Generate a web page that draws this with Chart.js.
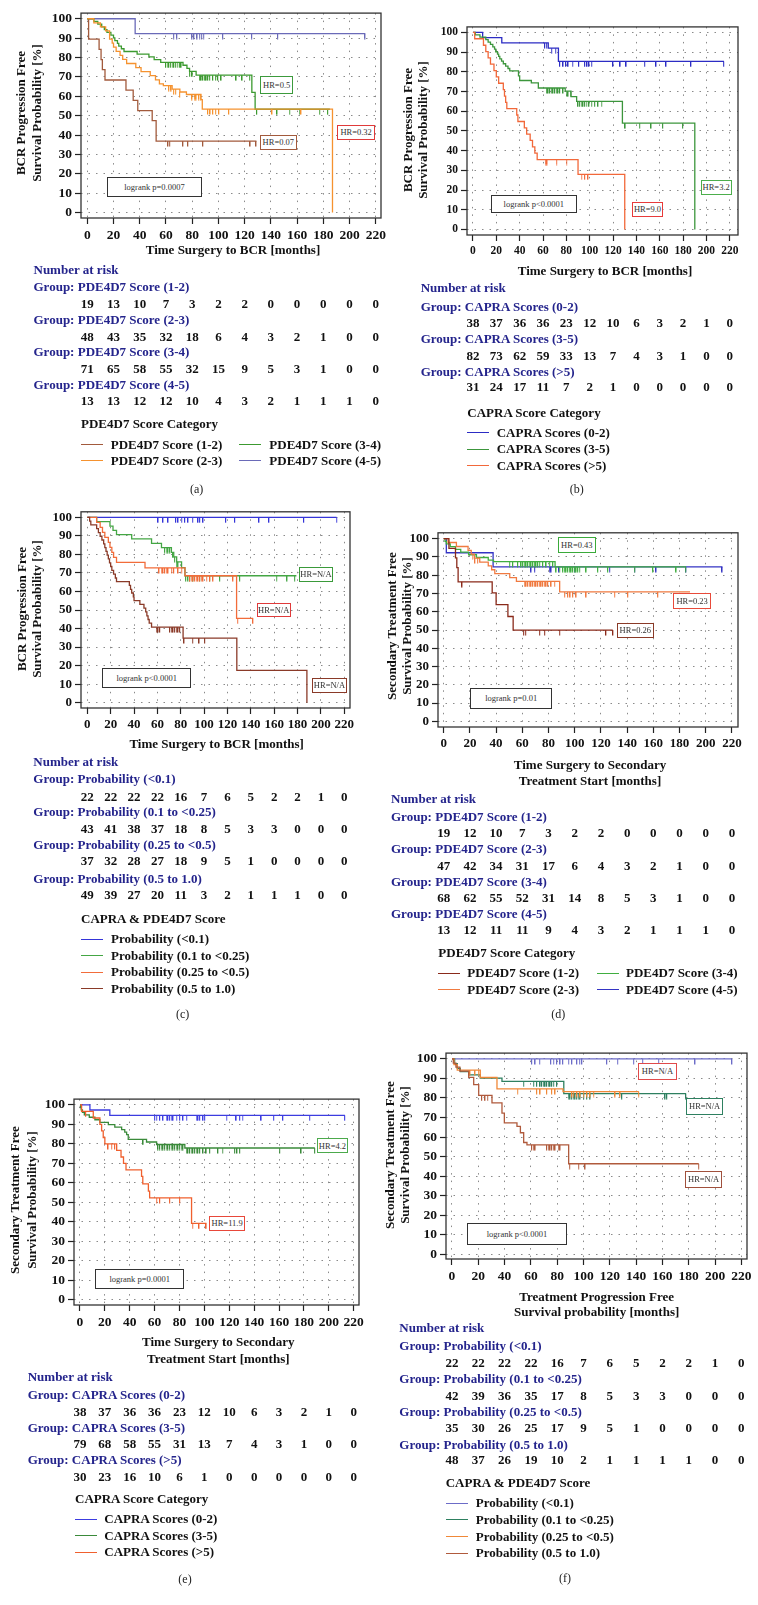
<!DOCTYPE html>
<html><head><meta charset="utf-8">
<script src="https://cdn.jsdelivr.net/npm/chart.js@4.4.1/dist/chart.umd.min.js"></script>
<style>
:root{--fs:13px;}
body{margin:0;background:#fff;width:758px;height:1605px;position:relative;overflow:hidden;font-family:'Liberation Serif','Times New Roman',serif;}
.t{position:absolute;white-space:nowrap;line-height:1;transform:translateY(-50%);font-weight:bold;font-size:var(--fs);color:#111;}
.c{transform:translate(-50%,-50%);}
.navy{color:#24248c;}
.yt{transform:translate(-50%,-50%) rotate(-90deg);}
.lab{font-weight:normal;font-size:12px;color:#222;}
.note{position:absolute;border:1.3px solid #333;font-size:8.5px;line-height:1;font-weight:normal;display:flex;align-items:center;justify-content:center;box-sizing:border-box;background:#fff;color:#333;white-space:nowrap;}
.leg{position:absolute;height:0;border-top:1.4px solid;}
canvas{position:absolute;}
</style></head><body>
<script>
// ---------- shared axes ----------
const xTicks=[0,20,40,60,80,100,120,140,160,180,200,220];
const yTicks=[0,10,20,30,40,50,60,70,80,90,100];

// ---------- (a) ----------
const A_groups=["PDE4D7 Score (1-2)","PDE4D7 Score (2-3)","PDE4D7 Score (3-4)","PDE4D7 Score (4-5)"];
const A_km=[
 [[0,100],[1,89.5],[9,84.2],[10.5,78.9],[11.5,73.7],[13.5,68.4],[29.5,63.2],[35,57.9],[38.5,52.6],[49.5,47.4],[52.5,36.9],[129,36.9]],
 [[0,100],[5,97.9],[10,95.8],[14,93.7],[17,89.5],[19,87.4],[20,85.3],[22,83.2],[25,81.1],[27,79],[30,76.9],[37,74.8],[41,72.7],[48,70.6],[52,68.5],[55,66.4],[58,65.5],[64.7,63.7],[70.6,62.2],[75.6,60.9],[86.7,58.3],[87.7,53.4],[187,53.4],[187,0]],
 [[0,100],[5,98.6],[8,97.2],[11,95.8],[13,94.4],[15,93],[18,91.5],[20,90.1],[21,88.7],[23,87.3],[24,85.9],[26,84.5],[28,83.1],[38,81.7],[47,80.3],[51,78.9],[56,77.5],[73,76],[76,74.4],[78,72.8],[83,70.9],[125.5,62],[128,53.3],[185,53.3]],
 [[0,100],[36.5,92.3],[212,92.3]]
];
const A_cens=[
 [61.7,62.9,73.1,76.9,88.3,124.4,128.9],
 [62.4,64.2,66,67.5,70.6,80,82,83.2,85.3,86.5,92.1,93.9,95.9,98,100.5,108.1,141.1,163.2],
 [60,61.2,62.4,63.7,65,66.2,67.5,68.8,70.6,71.8,78.2,80.2,85.8,87.1,88.3,89.6,90.9,92.1,93.4,95.9,98,99.7,102.3,113.7,118.3,123.9,129.4,144.9,154.3,161.9,177.2,183.5],
 [66,68.5,80,81.5,84,85.8,87.3,88.8,103.5,125.6,145.4,212]
];
const A_risk=[
 [19,13,10,7,3,2,2,0,0,0,0,0],
 [48,43,35,32,18,6,4,3,2,1,0,0],
 [71,65,58,55,32,15,9,5,3,1,0,0],
 [13,13,12,12,10,4,3,2,1,1,1,0]
];

// ---------- (b) ----------
const B_groups=["CAPRA Scores (0-2)","CAPRA Scores (3-5)","CAPRA Scores (>5)"];
const B_km=[
 [[0,100],[8.3,97.4],[24.7,94.7],[64.5,92],[73.2,85.3],[215,85.3]],
 [[0,100],[2,98.8],[6,97.6],[11,96.3],[13,95.1],[15,93.9],[17,92.7],[18.5,91.5],[19.5,90.2],[21,89],[22,87.8],[23,86.6],[24.5,85.4],[26,84.1],[28,82.9],[30,81.7],[31.5,80.5],[39,78],[40,75.6],[50,74.4],[56,71.8],[79,70.2],[84,67.4],[88.8,65],[128,54],[190,54],[190,0]],
 [[0,100],[1.5,96.8],[9,93.5],[11,90.3],[13,87.1],[15,83.9],[18,80.6],[20,77.4],[22,74.2],[26,71],[27,67.7],[28,64.5],[29,61.3],[37.5,58.1],[38.5,54.8],[44,51.6],[46,48.4],[49,45.2],[51,41.9],[53,38.7],[55,35.5],[90,28],[130,28],[130,0]]
];
const B_cens=[
 [61.7,63.2,67.4,70.8,74.5,77.4,79.7,81.7,85.3,90.8,95.9,97.9,99.6,101.6,120.1,126.3,131.4,147.1,157,165.6,186.9,214.8],
 [63.2,64.6,66,67.4,68.8,70.3,71.7,73.1,74.5,77.4,80.2,81.7,83.6,90.2,91.6,93,94.5,95.9,97.3,99.6,101.6,104.4,107.3,110.1,130.6,142.8,152.8,162.7,179.8],
 [62.3,63.7,71.7,80.2,93,95.9,98.7]
];
const B_risk=[
 [38,37,36,36,23,12,10,6,3,2,1,0],
 [82,73,62,59,33,13,7,4,3,1,0,0],
 [31,24,17,11,7,2,1,0,0,0,0,0]
];

// ---------- (c) ----------
const C_groups=["Probability (<0.1)","Probability (0.1 to <0.25)","Probability (0.25 to <0.5)","Probability (0.5 to 1.0)"];
const C_km=[
 [[0,100],[213.4,100]],
 [[0,100],[8,97.7],[19.4,95.3],[22,93],[25,90.7],[38,88.4],[55,86],[63.5,83.7],[72,81.1],[74,78.7],[76.5,76],[80.7,72.9],[83.6,68.5],[179,68.5]],
 [[0,100],[8,97.3],[11,94.6],[13,91.9],[15,89.2],[18,86.5],[19.4,83.8],[21,81.1],[22.5,78.4],[25,75.7],[49.4,72.7],[83.6,68.5],[127.8,45.5],[142,45.5]],
 [[0,100],[2,98],[3,95.9],[8,93.9],[9.5,91.8],[11,89.8],[12.5,87.8],[14,85.7],[15,83.7],[16,81.6],[17,79.6],[18,77.6],[19,75.5],[20,73.5],[21,71.4],[22.5,69.4],[24,67.3],[25,65.3],[36,63.3],[37,61.2],[38,59.2],[39.4,57.1],[40,55.1],[45,53.1],[48.5,51],[50,49],[51,46.9],[52,44.9],[53,42.9],[55,40.8],[82,34.9],[128,17.5],[188,17.5],[188,0]]
];
const C_cens=[
 [60.8,65,69.3,75.9,77.9,80.7,83.6,86.4,90.2,95,96.4,99.3,118.7,126.4,147.2,155.7,185.5,213.4],
 [66.5,67.9,69.3,70.8,73.6,75,76.5,77.9,84.5,86.4,87.9,90.7,96.4,105,113.6,130.7,162.1,171.2,177.7],
 [61.6,63.6,65,66.5,67.9,69.3,72.2,74.2,77.9,80.7,87.9,89.3,90.7,92.2,93.6,95,96.4,97.9,99.3,102.1,105,107.8,124.9,128.7,142],
 [59.3,60.8,62.2,70.8,72.2,73.6,75,76.5,77.9,79.3,83,90.2,95.9,100.7]
];
const C_risk=[
 [22,22,22,22,16,7,6,5,2,2,1,0],
 [43,41,38,37,18,8,5,3,3,0,0,0],
 [37,32,28,27,18,9,5,1,0,0,0,0],
 [49,39,27,20,11,3,2,1,1,1,0,0]
];

// ---------- (d) ----------
const D_groups=["PDE4D7 Score (1-2)","PDE4D7 Score (2-3)","PDE4D7 Score (3-4)","PDE4D7 Score (4-5)"];
const D_km=[
 [[0,100],[4,94.7],[9,89.5],[10,84.2],[11,76.4],[37,70.3],[40,63.9],[49,57.4],[53,50],[129,50]],
 [[0,100],[3.3,97.9],[9.7,95.7],[18.6,93.6],[21,91.5],[23.4,89.4],[27.5,87.2],[34,85.1],[36.6,83],[39,80.9],[50.4,78.7],[55.5,76.6],[88.5,70.9],[188,70.9]],
 [[0,100],[1,98.5],[2,97.1],[5,95.6],[9,94.1],[13,92.6],[19,91.2],[25,89.7],[34,88.2],[38,87.4],[85,84.6],[185,84.6]],
 [[0,100],[2,92.3],[37.7,84.6],[212.7,84.6]]
];
const D_cens=[
 [14.2,61.1,62.6,73.3,77.1,88.5,124,129.3],
 [22,24,26,61.8,63.1,64.4,65.6,66.9,68.2,69.5,70.7,72,73.3,74.6,75.8,77.1,78.4,79.6,82.2,84.7,92.4,94.9,96.7,98.7,101.3,108.9,130.5,140.7,163.6],
 [50.4,52.9,56.7,59.3,60.6,61.8,63.1,64.4,65.6,66.9,68.2,69.5,70.7,72,73.3,75.8,78.4,80.9,83.5,86,88.5,91.1,92.4,93.6,94.9,96.2,97.5,98.7,100,101.3,102.5,103.8,108.9,117.8,125.4,145.8,159.8,177.6,184.7],
 [66.9,69.5,80.9,82.2,88,100,126.7,145.8,162.3,185,212.7]
];
const D_risk=[
 [19,12,10,7,3,2,2,0,0,0,0,0],
 [47,42,34,31,17,6,4,3,2,1,0,0],
 [68,62,55,52,31,14,8,5,3,1,0,0],
 [13,12,11,11,9,4,3,2,1,1,1,0]
];

// ---------- (e) ----------
const E_groups=["CAPRA Scores (0-2)","CAPRA Scores (3-5)","CAPRA Scores (>5)"];
const E_km=[
 [[0,100],[8,97.4],[24,94.7],[213,94.7]],
 [[0,100],[0.5,98.7],[1,97.5],[2,96.2],[3.5,94.9],[7.5,93.7],[12,92.4],[16,91.1],[22.8,89.9],[28,88.6],[33.5,87.3],[36,86.1],[37.5,84.8],[38.8,82.3],[53.5,81],[61.6,79.7],[84.3,77.9],[188.8,77.9]],
 [[0,100],[1.3,96.7],[10.7,93.3],[16,90],[17.4,86.7],[18.7,83.3],[20,80],[29.5,76.7],[33,73.3],[35,70],[37,66.7],[49.5,63.3],[50.5,59.5],[55,55.8],[56,52.3],[89.7,39.2],[101.7,39.2]]
];
const E_cens=[
 [60.2,61.6,64.3,66.9,69.6,70.9,72.3,73.6,75,77.6,80.3,83,85.7,93.7,95.1,96.4,99.1,100.4,117.8,125.8,128.5,130.7,145.9,155.8,163.3,184.7,212.9],
 [51,62.9,64.3,65.6,66.9,68.3,69.6,70.9,72.3,73.6,75,76.3,77.6,79,80.3,81.7,83,85.7,87,88.4,89.7,91,92.4,93.7,95,96.4,99.1,101.7,104.4,111.1,114.6,124.5,126.4,128.5,160.6,178,188.8],
 [4.8,22.8,25.4,28.1,61.6,64.3,72.3,80.3,90.5,95.9,101.7]
];
const E_risk=[
 [38,37,36,36,23,12,10,6,3,2,1,0],
 [79,68,58,55,31,13,7,4,3,1,0,0],
 [30,23,16,10,6,1,0,0,0,0,0,0]
];

// ---------- (f) ----------
const F_groups=["Probability (<0.1)","Probability (0.1 to <0.25)","Probability (0.25 to <0.5)","Probability (0.5 to 1.0)"];
const F_km=[
 [[0,100],[213,100]],
 [[0,100],[2,97.6],[4,95.2],[6.3,93.5],[12.7,91.8],[21.5,90.2],[38,88.5],[85,82.2],[178,82.2]],
 [[0,100],[1.5,97.1],[4,94.3],[21.5,90.5],[34.2,84.7],[84.4,83.3],[142,83.3]],
 [[0,100],[1,97.9],[3,95.8],[6,93.8],[12.7,90.6],[16.5,86.8],[20.3,81.3],[30.4,77.5],[38,72.2],[39.8,67.2],[49.4,65.5],[52,62.2],[54.5,57.2],[57,56],[88.7,46.3],[187.6,46.3]]
];
const F_cens=[
 [60.8,63.4,66.7,75.3,77.3,79.8,82.4,84.4,88.7,91.3,95.1,97.1,98.9,117.9,126,138.2,145,157.2,185,213],
 [54.5,62.1,64.6,67.2,68.4,69.7,71,72.2,73.5,74.8,76,77.3,79.8,88.7,90,91.3,92.5,93.8,95.1,96.3,97.6,100.1,102.7,105.2,129.3,162.2,163.5,178],
 [13.9,17.7,20.3,49.9,64.6,67.2,72.2,76,78.6,91.3,92.5,95.1,97.6,100.1,102.7,105.2,107.7,124.2,128,142],
 [22.8,25.3,27.1,60.8,62.1,63.4,72.2,73.5,74.8,76,77.3,78.6,81.1,82.4,89.5,96.3,101.4,187.6]
];
const F_risk=[
 [22,22,22,22,16,7,6,5,2,2,1,0],
 [42,39,36,35,17,8,5,3,3,0,0,0],
 [35,30,26,25,17,9,5,1,0,0,0,0],
 [48,37,26,19,10,2,1,1,1,1,0,0]
];

// ---------- layout & style (page pixels) ----------
const PANELS=[
 {groups:A_groups,km:A_km,cens:A_cens,risk:A_risk,draw:[1,2,0,3],
  colors:['#a25a3c','#f5922f','#3c9a30','#6a6ab8'],
  box:[81,8,381,218],xr:[-4.8,224],yr:[-2.8,102.9],tf:13.5,
  yt:["BCR Progression Free","Survival Probability [%]"],ytx:[20.7,36.7],yty:113,
  xt:["Time Surgery to BCR [months]"],xtx:233,xty:[249.5],
  nar:[33.5,269.5],grpY:[287,319.5,352,384.5],numY:[304,336.5,369,401],
  legT:"PDE4D7 Score Category",legTXY:[81,423.5],
  leg:[[0,81,110.7,444.5],[1,81,110.7,460.5],[2,239,269.3,444.5],[3,239,269.3,460.5]],
  lab:"(a)",labXY:[196.7,489],
  notes:[["HR=0.5","#3c9a3c",260,76,293.3,94],["HR=0.07","#a25a3c",260,135,296.7,150],["HR=0.32","#e03a3a",337.3,125,375,140],["logrank p=0.0007","#333",106.7,176.7,202.3,197.3]]},
 {groups:B_groups,km:B_km,cens:B_cens,risk:B_risk,draw:[2,1,0],
  colors:['#2c2cc4','#3c963c','#f2683a'],
  box:[467,23,738,235],xr:[-5.1,227],yr:[-2.8,102.8],tf:11.5,
  yt:["BCR Progression Free","Survival Probability [%]"],ytx:[408.3,423.3],yty:130,
  xt:["Time Surgery to BCR [months]"],xtx:605,xty:[271],
  nar:[420.7,288.3],grpY:[306.7,339,371.7],numY:[323.3,355.7,387.3],
  legT:"CAPRA Score Category",legTXY:[467.3,412.7],
  leg:[[0,467,496.7,432.7],[1,467,496.7,449.3],[2,467,496.7,465.7]],
  lab:"(b)",labXY:[576.7,489],
  notes:[["HR=9.0","#e83a3a",632.3,201.7,662.7,217.3],["HR=3.2","#4cae4c",700.7,180,731.7,195],["logrank p<0.0001","#333",491,195,576.7,213.3]]},
 {groups:C_groups,km:C_km,cens:C_cens,risk:C_risk,draw:[3,2,1,0],
  colors:['#3434d8','#44a644','#f26c3a','#8a3a28'],
  box:[81,507,350,708],xr:[-5.4,224.9],yr:[-2.85,103],tf:13,
  yt:["BCR Progression Free","Survival Probability [%]"],ytx:[21.7,37.3],yty:609,
  xt:["Time Surgery to BCR [months]"],xtx:216.7,xty:[744.3],
  nar:[33.3,761.7],grpY:[779.3,812.3,845,879.3],numY:[796.7,829,860.7,895],
  legT:"CAPRA & PDE4D7 Score",legTXY:[81,919],
  leg:[[0,81,111,939.3],[1,81,111,955.7],[2,81,111,972.3],[3,81,111,989]],
  lab:"(c)",labXY:[182.7,1014.3],
  notes:[["HR=N/A","#3a9a3a",299.3,566.7,332.7,581.7],["HR=N/A","#e03a3a",256.7,602.7,290.7,617.3],["HR=N/A","#8a3a28",312.3,678.3,346.7,692.7],["logrank p<0.0001","#333",102.3,668.3,191,688.3]]},
 {groups:D_groups,km:D_km,cens:D_cens,risk:D_risk,draw:[0,1,2,3],
  colors:['#8a2a1a','#f07a40','#40ae40','#3434c4'],
  box:[438,528,738,727],xr:[-4.35,224.6],yr:[-3.05,103.2],tf:13,
  yt:["Secondary Treatment Free","Survival Probability [%]"],ytx:[392,407],yty:626,
  xt:["Time Surgery to Secondary","Treatment Start [months]"],xtx:590,xty:[765,780.7],
  nar:[391,799],grpY:[816.7,849.3,881.7,914.3],numY:[833.3,866,897.7,930],
  legT:"PDE4D7 Score Category",legTXY:[438.3,953.3],
  leg:[[0,438,467.3,973.3],[1,438,467.3,990],[2,596.7,626,973.3],[3,596.7,626,990]],
  lab:"(d)",labXY:[558.3,1014.3],
  notes:[["HR=0.43","#3aaa3a",557.7,537.3,596,552.7],["HR=0.23","#e84a3a",673.3,592.7,711,609],["HR=0.26","#8a3a28",616.7,622.7,654,638.3],["logrank p=0.01","#333",470,688.3,552.3,709]]},
 {groups:E_groups,km:E_km,cens:E_cens,risk:E_risk,draw:[2,1,0],
  colors:['#3c3ce0','#3a8a3a','#f0602e'],
  box:[74,1094,359,1305],xr:[-4.8,224.3],yr:[-2.65,103],tf:13.5,
  yt:["Secondary Treatment Free","Survival Probability [%]"],ytx:[15,32.3],yty:1200,
  xt:["Time Surgery to Secondary","Treatment Start [months]"],xtx:218.3,xty:[1342.3,1359],
  nar:[27.7,1376.7],grpY:[1395,1427.7,1460],numY:[1411.7,1444.3,1476.7],
  legT:"CAPRA Score Category",legTXY:[75,1499],
  leg:[[0,75,104.3,1519.3],[1,75,104.3,1536],[2,75,104.3,1552.3]],
  lab:"(e)",labXY:[185,1579.3],
  notes:[["HR=4.2","#4caa4c",316.7,1138.3,348.3,1153.3],["HR=11.9","#e8483a",209.3,1215.7,245,1230.7],["logrank p=0.0001","#333",95,1269.3,184.3,1289.3]]},
 {groups:F_groups,km:F_km,cens:F_cens,risk:F_risk,draw:[3,2,1,0],
  colors:['#6c6cc8','#2e8060','#f08838','#b05a3c'],
  box:[446,1048,747,1259],xr:[-4.56,224.3],yr:[-2.5,103],tf:13.5,
  yt:["Secondary Treatment Free","Survival Probability [%]"],ytx:[390,405],yty:1155,
  xt:["Treatment Progression Free","Survival probability [months]"],xtx:596.7,xty:[1296.7,1311.7],
  nar:[399.3,1328.3],grpY:[1346,1379,1411.7,1445],numY:[1363.3,1396,1428.3,1460],
  legT:"CAPRA & PDE4D7 Score",legTXY:[445.7,1482.7],
  leg:[[0,445.7,475.7,1503.3],[1,445.7,475.7,1520],[2,445.7,475.7,1536.7],[3,445.7,475.7,1553.3]],
  lab:"(f)",labXY:[565,1578.3],
  notes:[["HR=N/A","#e04a4a",638.3,1062.7,676.7,1080],["HR=N/A","#2e8060",686,1098.3,723.3,1115],["HR=N/A","#a0503c",685,1171,722.3,1187.7],["logrank p<0.0001","#333",467.3,1223.3,566.7,1245]]}
];

const FF="'Liberation Serif','Times New Roman',serif";
// calibrate text size so that a group label has the reference width (~156px)
const mctx=document.createElement('canvas').getContext('2d');
mctx.font="bold 13px "+FF;
const K=Math.min(1.3,Math.max(0.85,156/mctx.measureText("Group: PDE4D7 Score (1-2)").width));
document.documentElement.style.setProperty('--fs',(13*K).toFixed(2)+'px');

function sAt(km,t){let v=km[0][1];for(const p of km){if(p[0]<=t)v=p[1];else break;}return v;}
const imgs={};
function tickImg(col){
  if(imgs[col])return imgs[col];
  const c=document.createElement('canvas');c.width=2;c.height=12;
  const g=c.getContext('2d');g.fillStyle=col;g.fillRect(0,6,1.2,5.5);
  return imgs[col]=c;
}
function txt(s,x,y,cls,st){
  const d=document.createElement('div');d.className='t '+(cls||'');d.textContent=s;
  d.style.left=x+'px';d.style.top=y+'px';if(st)Object.assign(d.style,st);
  document.body.appendChild(d);return d;
}
const boxPlugin={id:'box',afterDatasetsDraw(ch){const a=ch.chartArea,g=ch.ctx;g.save();g.strokeStyle='#333';g.lineWidth=1.3;g.strokeRect(a.left,a.top,a.right-a.left,a.bottom-a.top);g.restore();}};

function makePanel(P){
  const [x0,y0,x1,y1]=P.box;
  const L=70,T=6,R=10,B=34;
  const w=(x1-x0)+L+R,h=(y1-y0)+T+B;
  const cv=document.createElement('canvas');
  cv.width=w;cv.height=h;cv.style.width=w+'px';cv.style.height=h+'px';
  cv.style.left=(x0-L)+'px';cv.style.top=(y0-T)+'px';
  document.body.appendChild(cv);
  const ds=[];
  P.draw.forEach(i=>{
    const col=P.colors[i];
    ds.push({data:P.km[i].map(p=>({x:p[0],y:p[1]})),borderColor:col,borderWidth:1.3,stepped:true,pointRadius:0,fill:false});
    ds.push({data:P.cens[i].map(t=>({x:t,y:sAt(P.km[i],t)})),showLine:false,pointStyle:tickImg(col),pointRadius:3,borderColor:col,backgroundColor:col});
  });
  const axis=(minmax,ticks,fitFn)=>({type:'linear',min:minmax[0],max:minmax[1],
    afterBuildTicks:s=>{s.ticks=ticks.map(v=>({value:v}));},afterFit:fitFn,
    ticks:{font:{family:FF,weight:'bold',size:+(P.tf*K).toFixed(2)},color:'#111',padding:3,maxRotation:0,autoSkip:false},
    grid:{color:'#8a8a8a',lineWidth:1,tickLength:6,tickColor:'#222',tickWidth:1.2,drawTicks:true},
    border:{display:false,dash:[1.5,6]}});
  const ch=new Chart(cv,{type:'line',data:{datasets:ds},plugins:[boxPlugin],
    options:{responsive:false,animation:false,events:[],
      layout:{padding:{left:0,top:T,right:R,bottom:0}},
      plugins:{legend:{display:false},tooltip:{enabled:false}},
      scales:{x:axis(P.xr,xTicks,s=>{s.height=B;}),y:axis(P.yr,yTicks,s=>{s.width=L;})}}});
  P.yt.forEach((s,i)=>txt(s,P.ytx[i],P.yty,'yt'));
  P.xt.forEach((s,i)=>txt(s,P.xtx,P.xty[i],'c'));
  txt("Number at risk",P.nar[0],P.nar[1],'navy');
  const xs=ch.scales.x;
  P.groups.forEach((g,i)=>{
    txt("Group: "+g,P.nar[0],P.grpY[i],'navy');
    P.risk[i].forEach((n,k)=>txt(String(n),xs.getPixelForValue(xTicks[k])+(x0-L),P.numY[i],'c'));
  });
  txt(P.legT,P.legTXY[0],P.legTXY[1]);
  P.leg.forEach(([gi,lx,tx,y])=>{
    const l=document.createElement('div');l.className='leg';
    l.style.left=lx+'px';l.style.top=(y-0.7)+'px';l.style.width='22px';l.style.borderTopColor=P.colors[gi];
    document.body.appendChild(l);
    txt(P.groups[gi],tx,y);
  });
  txt(P.lab,P.labXY[0],P.labXY[1],'c lab');
  P.notes.forEach(([s,col,a,b,c,d])=>{
    const n=document.createElement('div');n.className='note';n.textContent=s;
    n.style.left=a+'px';n.style.top=b+'px';n.style.width=(c-a)+'px';n.style.height=(d-b)+'px';n.style.borderColor=col;
    document.body.appendChild(n);
  });
}
PANELS.forEach(makePanel);
</script>
</body></html>
